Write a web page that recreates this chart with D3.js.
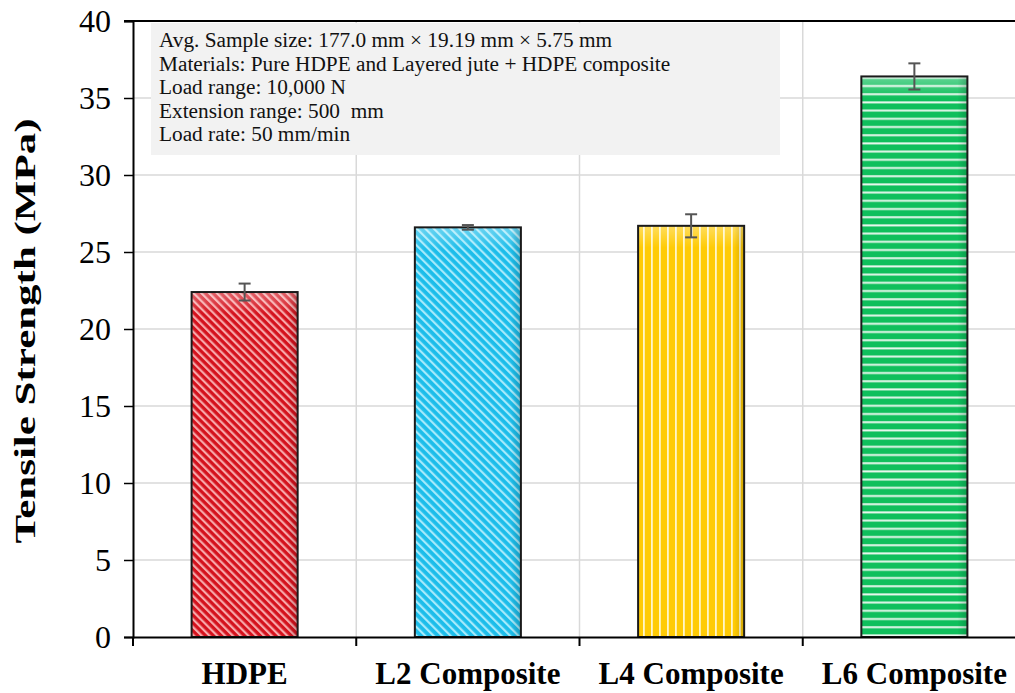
<!DOCTYPE html>
<html><head><meta charset="utf-8">
<script src="https://cdn.jsdelivr.net/npm/d3@7/dist/d3.min.js"></script>
<style>body{margin:0;background:#fff}svg{display:block}</style>
</head><body>
<svg id="c" width="1015" height="693"></svg>
<script>
const categories = ["HDPE", "L2 Composite", "L4 Composite", "L6 Composite"];
const values = [22.4, 26.6, 26.7, 36.4];
const errors = [0.55, 0.15, 0.75, 0.85];
const yTicks = [0, 5, 10, 15, 20, 25, 30, 35, 40];
const colors = ["#d4121d", "#1cbdea", "#ffcb05", "#0fbf5c"];
const stripeColors = ["#f7a9ab", "#a6eafb", "#fff6c8", "#e6f7ec"];
const notes = [
  "Avg. Sample size: 177.0 mm \u00d7 19.19 mm \u00d7 5.75 mm",
  "Materials: Pure HDPE and Layered jute + HDPE composite",
  "Load range: 10,000 N",
  "Extension range: 500\u00a0 mm",
  "Load rate: 50 mm/min"
];

const svg = d3.select("#c");
const L = 133, T = 21, B = 637, R = 1026;
const x = d3.scaleBand().domain(categories).range([L, R]);
const y = d3.scaleLinear().domain([0, 40]).range([B, T]);
const font = "Liberation Serif, Times New Roman, serif";

const defs = svg.append("defs");
const pats = [
  {id: "p0", type: "diag", size: 5.5},
  {id: "p1", type: "diag", size: 6},
  {id: "p2", type: "vert"},
  {id: "p3", type: "horiz"}
];
pats.forEach((p, i) => {
  let pat;
  if (p.type === "diag") {
    pat = defs.append("pattern").attr("id", p.id).attr("patternUnits", "userSpaceOnUse")
      .attr("width", p.size).attr("height", p.size)
      .attr("patternTransform", "rotate(-45)");
    pat.append("rect").attr("width", p.size).attr("height", p.size).attr("fill", colors[i]);
    pat.append("rect").attr("x", 0).attr("width", 2.2).attr("height", p.size).attr("fill", stripeColors[i]);
  } else if (p.type === "vert") {
    pat = defs.append("pattern").attr("id", p.id).attr("patternUnits", "userSpaceOnUse")
      .attr("width", 8).attr("height", 8);
    pat.append("rect").attr("width", 8).attr("height", 8).attr("fill", colors[i]);
    pat.append("rect").attr("x", 3).attr("width", 1.8).attr("height", 8).attr("fill", stripeColors[i]);
  } else {
    pat = defs.append("pattern").attr("id", p.id).attr("patternUnits", "userSpaceOnUse")
      .attr("width", 8).attr("height", 8.2);
    pat.append("rect").attr("width", 8).attr("height", 8.2).attr("fill", colors[i]);
    pat.append("rect").attr("y", 3).attr("width", 8).attr("height", 2).attr("fill", stripeColors[i]);
  }
});
const gTop = defs.append("linearGradient").attr("id", "shadeTop").attr("x1", 0).attr("y1", 0).attr("x2", 0).attr("y2", 1);
gTop.append("stop").attr("offset", 0).attr("stop-color", "#fff").attr("stop-opacity", 0.35);
gTop.append("stop").attr("offset", 1).attr("stop-color", "#fff").attr("stop-opacity", 0);
const gRight = defs.append("linearGradient").attr("id", "shadeRight").attr("x1", 0).attr("y1", 0).attr("x2", 1).attr("y2", 0);
gRight.append("stop").attr("offset", 0).attr("stop-color", "#000").attr("stop-opacity", 0);
gRight.append("stop").attr("offset", 1).attr("stop-color", "#000").attr("stop-opacity", 0.18);

// gridlines
svg.append("g").selectAll("line").data(yTicks.filter(d => d > 0 && d < 40)).join("line")
  .attr("x1", L).attr("x2", R).attr("y1", d => y(d)).attr("y2", d => y(d))
  .attr("stroke", "#d9d9d9").attr("stroke-width", 1.5);
const bounds = categories.slice(1).map(c => x(c));
svg.append("g").selectAll("line").data(bounds).join("line")
  .attr("x1", d => d).attr("x2", d => d).attr("y1", T).attr("y2", B)
  .attr("stroke", "#d9d9d9").attr("stroke-width", 1.5);

// annotation box
svg.append("rect").attr("x", 151).attr("y", 23).attr("width", 629).attr("height", 132).attr("fill", "#f2f2f2");
svg.append("g").selectAll("text").data(notes).join("text")
  .attr("x", 159).attr("y", (d, i) => 47 + i * 23.6)
  .style("font-family", font).style("font-size", "21.3px").attr("fill", "#111").text(d => d);

// bars
const bw = x.bandwidth() * 0.475;
const bars = svg.append("g").selectAll("g").data(categories).join("g");
bars.append("rect")
  .attr("x", d => x(d) + (x.bandwidth() - bw) / 2).attr("width", bw)
  .attr("y", (d, i) => y(values[i])).attr("height", (d, i) => B - y(values[i]))
  .attr("fill", (d, i) => `url(#p${i})`);
bars.append("rect")
  .attr("x", d => x(d) + (x.bandwidth() - bw) / 2).attr("width", bw)
  .attr("y", (d, i) => y(values[i])).attr("height", 22)
  .attr("fill", "url(#shadeTop)");
bars.append("rect")
  .attr("x", d => x(d) + (x.bandwidth() - bw) / 2 + bw - 10).attr("width", 10)
  .attr("y", (d, i) => y(values[i])).attr("height", (d, i) => B - y(values[i]))
  .attr("fill", "url(#shadeRight)");
bars.append("rect")
  .attr("x", d => x(d) + (x.bandwidth() - bw) / 2).attr("width", bw)
  .attr("y", (d, i) => y(values[i])).attr("height", (d, i) => B - y(values[i]))
  .attr("fill", "none").attr("stroke", "#1a1a1a").attr("stroke-width", 2);

// error bars
const eb = svg.append("g").attr("stroke", "#555").attr("stroke-width", 2);
categories.forEach((c, i) => {
  const cx = x(c) + x.bandwidth() / 2;
  const y1 = y(values[i] + errors[i]), y2 = y(values[i] - errors[i]);
  eb.append("line").attr("x1", cx).attr("x2", cx).attr("y1", y1).attr("y2", y2);
  eb.append("line").attr("x1", cx - 6).attr("x2", cx + 6).attr("y1", y1).attr("y2", y1);
  eb.append("line").attr("x1", cx - 6).attr("x2", cx + 6).attr("y1", y2).attr("y2", y2);
});

// axes
const yAxis = svg.append("g").attr("transform", `translate(${L},0)`)
  .call(d3.axisLeft(y).tickValues(yTicks).tickSize(9).tickPadding(13));
yAxis.attr("font-family", null).attr("font-size", null);
yAxis.select(".domain").attr("stroke", "#000").attr("stroke-width", 2);
yAxis.selectAll(".tick line").attr("stroke", "#000").attr("stroke-width", 1.5);
yAxis.selectAll("text").style("font-family", font).style("font-size", "32px").attr("fill", "#000");

const xAxis = svg.append("g").attr("transform", `translate(0,${B})`)
  .call(d3.axisBottom(x).tickSize(0).tickPadding(0));
xAxis.attr("font-family", null).attr("font-size", null);
xAxis.select(".domain").attr("stroke", "#000").attr("stroke-width", 2);
xAxis.selectAll("text").style("font-family", font).style("font-size", "31px").style("font-weight", "bold")
  .attr("fill", "#000").attr("y", 47).attr("dy", null);
svg.append("g").selectAll("line").data([L, ...bounds]).join("line")
  .attr("x1", d => d).attr("x2", d => d).attr("y1", B).attr("y2", B + 9)
  .attr("stroke", "#000").attr("stroke-width", 2);
// top frame line
svg.append("line").attr("x1", L - 9).attr("x2", R).attr("y1", T).attr("y2", T)
  .attr("stroke", "#000").attr("stroke-width", 2);

svg.append("text").attr("transform", `translate(35,331) rotate(-90)`)
  .attr("text-anchor", "middle").style("font-family", font).style("font-size", "30px")
  .style("font-weight", "bold").attr("textLength", 425).attr("lengthAdjust", "spacingAndGlyphs")
  .text("Tensile Strength (MPa)");
</script>
</body></html>
